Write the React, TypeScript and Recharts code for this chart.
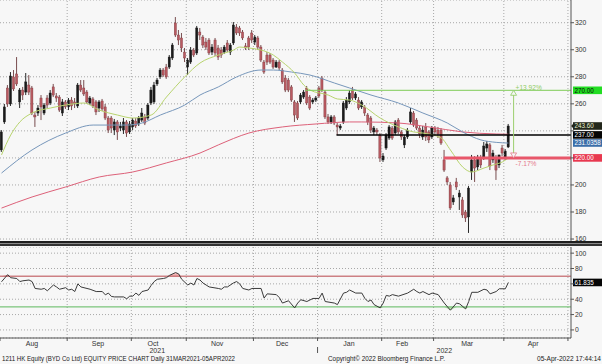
import React from "react";
import {
  Area,
  Bar,
  CartesianGrid,
  ComposedChart,
  Line,
  ReferenceDot,
  ReferenceLine,
  XAxis,
  YAxis,
} from "recharts";

// daily OHLC, one entry per trading day from 2 Aug 2021 to 4 Apr 2022
const openP = [
  225.9, 246.6, 271.7, 259.9, 279.9, 282.1, 261.4, 270.2, 268.7, 273.9,
  271.7, 251.7, 253.2, 264.3, 253.2, 264.3, 260.6, 272.5, 265.8, 265.0,
  253.2, 261.4, 257.7, 262.8, 261.4, 258.4, 273.9, 271.7, 268.7, 260.6,
  263.6, 261.4, 256.9, 262.1, 257.7, 249.5, 249.5, 240.6, 246.6, 242.1,
  240.6, 246.6, 239.2, 242.9, 247.3, 245.1, 248.0, 250.3, 249.5, 260.6,
  261.4, 274.7, 279.9, 285.0, 287.2, 287.2, 293.9, 319.8, 310.9, 308.7,
  298.3, 287.2, 290.9, 299.8, 297.6, 313.1, 309.4, 305.7, 307.2, 298.3,
  307.2, 301.3, 299.8, 298.3, 305.0, 298.3, 305.0, 316.8, 316.1, 313.1,
  302.8, 308.7, 312.4, 305.7, 308.7, 302.0, 290.9, 296.1, 296.1, 292.4,
  287.2, 290.9, 285.0, 279.1, 277.6, 272.5, 261.4, 260.6, 261.4, 265.0,
  271.7, 265.0, 261.4, 262.8, 271.7, 279.1, 268.7, 250.3, 246.6, 250.3,
  244.3, 242.1, 246.6, 256.9, 261.4, 270.2, 264.3, 262.8, 257.7, 257.7,
  251.7, 249.5, 239.2, 240.6, 236.9, 218.5, 227.3, 234.7, 242.1, 238.4,
  248.0, 239.2, 229.6, 235.5, 246.6, 253.2, 248.0, 242.1, 235.5, 242.9,
  239.2, 235.5, 242.1, 240.6, 240.6, 218.5, 205.2, 200.0, 187.4, 202.2,
  191.1, 188.9, 180.0, 176.3, 209.6, 218.5, 213.3, 219.9, 220.7, 227.3,
  229.6, 218.5, 219.9, 214.8, 227.3, 220.7, 228.1,
];
const highP = [
  240.6, 259.9, 273.9, 283.5, 285.0, 294.6, 271.7, 272.5, 282.8, 281.3,
  273.2, 254.0, 259.1, 266.5, 260.6, 266.5, 270.2, 274.7, 268.0, 266.5,
  263.6, 262.8, 264.3, 265.0, 264.3, 275.4, 277.6, 277.6, 270.2, 265.8,
  265.0, 262.8, 262.8, 263.6, 259.9, 251.0, 251.0, 248.8, 248.0, 246.6,
  249.5, 248.0, 247.3, 249.5, 249.5, 251.0, 256.9, 252.5, 260.6, 272.5,
  276.2, 279.1, 286.5, 286.5, 289.5, 296.1, 305.0, 324.2, 314.6, 312.4,
  301.3, 293.9, 302.0, 301.3, 317.6, 316.1, 310.9, 308.7, 308.7, 304.2,
  308.7, 303.5, 302.0, 303.5, 307.2, 305.0, 320.5, 319.0, 317.6, 314.6,
  305.0, 310.2, 314.6, 310.9, 310.2, 303.5, 292.4, 298.3, 297.6, 293.9,
  292.4, 292.4, 286.5, 281.3, 279.1, 273.9, 262.8, 262.1, 268.0, 270.2,
  273.2, 266.5, 264.3, 265.8, 273.2, 280.6, 270.2, 252.5, 251.7, 251.7,
  245.8, 245.1, 262.1, 265.0, 270.2, 272.5, 268.7, 265.0, 262.8, 259.1,
  253.2, 251.0, 243.6, 242.1, 238.4, 223.6, 238.4, 244.3, 243.6, 248.0,
  249.5, 240.6, 236.9, 242.1, 256.9, 254.7, 249.5, 243.6, 243.6, 245.8,
  240.6, 243.6, 243.6, 242.9, 242.1, 225.9, 206.6, 202.2, 192.6, 205.2,
  196.3, 191.1, 181.5, 199.2, 222.2, 221.4, 222.2, 222.2, 231.8, 232.5,
  231.0, 225.9, 222.2, 222.2, 229.6, 226.6, 245.1,
];
const lowP = [
  224.4, 245.1, 257.7, 258.4, 269.5, 273.2, 256.9, 262.8, 266.5, 266.5,
  251.7, 242.9, 251.0, 248.0, 251.7, 256.9, 259.1, 265.0, 261.4, 254.0,
  251.0, 256.2, 255.4, 255.4, 256.9, 256.9, 268.7, 265.8, 259.9, 259.1,
  256.9, 251.7, 254.0, 254.7, 248.0, 238.4, 238.4, 236.9, 233.3, 239.9,
  237.7, 235.5, 237.7, 240.6, 242.1, 243.6, 246.6, 244.3, 248.0, 259.1,
  259.9, 273.2, 278.4, 279.9, 278.4, 285.8, 292.4, 309.4, 303.5, 298.3,
  290.9, 281.3, 289.5, 294.6, 296.1, 307.2, 301.3, 299.8, 296.1, 296.1,
  295.4, 292.4, 293.9, 296.9, 298.3, 296.1, 303.5, 310.9, 310.2, 307.2,
  299.8, 299.8, 305.0, 303.5, 299.8, 290.9, 282.1, 288.7, 289.5, 285.8,
  286.5, 285.0, 274.7, 268.7, 268.7, 261.4, 246.6, 248.0, 259.9, 263.6,
  259.1, 255.4, 259.9, 261.4, 264.3, 268.7, 248.8, 245.1, 245.1, 244.3,
  236.9, 240.6, 245.1, 255.4, 259.9, 262.8, 262.8, 255.4, 256.2, 251.0,
  244.3, 238.4, 236.9, 236.9, 217.0, 217.0, 225.9, 233.3, 233.3, 236.9,
  237.7, 233.3, 227.3, 234.0, 245.1, 242.9, 240.6, 234.7, 233.3, 232.5,
  231.0, 234.0, 236.9, 234.7, 229.6, 209.6, 200.0, 181.5, 185.2, 196.3,
  181.5, 175.6, 172.6, 164.5, 203.7, 202.2, 211.0, 212.5, 218.5, 224.4,
  211.0, 216.3, 203.7, 212.5, 221.4, 218.5, 227.3,
];
const closeP = [
  239.2, 257.7, 259.9, 280.6, 271.0, 274.7, 270.2, 266.5, 276.2, 268.7,
  253.2, 250.3, 256.9, 257.7, 259.1, 259.1, 268.0, 266.5, 264.3, 255.4,
  261.4, 257.7, 262.8, 258.4, 259.9, 273.9, 270.2, 267.3, 261.4, 264.3,
  258.4, 254.0, 261.4, 256.2, 249.5, 240.6, 242.1, 246.6, 239.2, 243.6,
  246.6, 238.4, 245.1, 248.0, 243.6, 249.5, 253.2, 245.8, 259.1, 270.2,
  273.9, 277.6, 285.0, 281.3, 279.9, 294.6, 303.5, 310.9, 307.2, 301.3,
  293.9, 292.4, 299.8, 296.1, 316.1, 310.9, 303.5, 302.0, 297.6, 302.0,
  297.6, 294.6, 296.1, 302.0, 299.8, 303.5, 318.3, 312.4, 312.4, 308.7,
  301.3, 302.0, 307.2, 309.4, 302.0, 292.4, 283.5, 290.9, 290.9, 287.2,
  290.9, 286.5, 276.2, 270.2, 270.2, 262.8, 251.7, 249.5, 266.5, 268.7,
  260.6, 256.9, 262.8, 264.3, 265.8, 270.2, 250.3, 246.6, 250.3, 245.8,
  242.9, 243.6, 260.6, 262.8, 268.0, 264.3, 267.3, 256.9, 261.4, 253.2,
  246.6, 240.6, 242.1, 239.2, 219.9, 221.4, 236.9, 242.9, 234.7, 246.6,
  239.2, 235.5, 235.5, 240.6, 254.0, 244.3, 242.1, 237.7, 240.6, 235.5,
  233.3, 242.1, 239.2, 237.7, 231.0, 211.0, 202.2, 183.0, 190.4, 198.5,
  194.0, 177.8, 175.6, 197.7, 218.5, 212.5, 219.9, 214.8, 228.8, 230.3,
  214.0, 223.6, 211.0, 222.2, 223.6, 225.1, 243.6,
];

// moving averages: [trading day index, value]
const maShort: [number, number][] = [
  [0, 222.2], [3, 236.9], [6, 246.6], [10, 253.2], [16, 256.9], [21, 259.1],
  [27, 260.6], [32, 255.4], [38, 251.7], [43, 249.5], [49, 251.7], [54, 265.0],
  [60, 279.9], [65, 290.2], [71, 296.1], [76, 299.8], [78, 302.0], [81, 301.3],
  [85, 299.8], [89, 296.1], [92, 290.9], [96, 282.8], [99, 273.9], [101, 270.2],
  [107, 266.5], [110, 263.6], [114, 262.8], [118, 259.1], [124, 249.5], [130, 242.9],
  [135, 239.2], [138, 238.4], [144, 234.7], [147, 225.9], [151, 213.3], [154, 209.6],
  [158, 212.5], [161, 214.8], [164, 217.0], [166, 219.9],
];
const maMid: [number, number][] = [
  [0, 208.8], [10, 225.9], [21, 238.4], [30, 244.3], [36, 244.3], [41, 244.3],
  [46, 245.8], [52, 251.7], [60, 259.1], [65, 266.5], [71, 272.5], [77, 279.9],
  [85, 285.0], [89, 285.0], [95, 283.5], [101, 281.3], [109, 275.4], [114, 271.7],
  [121, 266.5], [130, 260.6], [138, 253.2], [146, 245.8], [151, 239.2], [157, 233.3],
  [162, 231.5], [166, 231.0],
];
const maLong: [number, number][] = [
  [0, 182.9], [10, 191.1], [21, 198.5], [32, 205.9], [43, 209.6], [54, 216.3],
  [65, 223.6], [71, 229.6], [81, 238.4], [92, 242.9], [103, 245.1], [114, 246.6],
  [118, 246.6], [130, 245.8], [140, 242.9], [151, 239.2], [162, 237.7], [166, 237.5],
];

const rsiPoints: [number, number][] = [
  [0, 62.7], [2, 72], [3, 68], [5, 67], [6, 63], [7, 64], [9, 65], [10, 63], [11, 54],
  [13, 53], [14, 54], [15, 51], [17, 58.5], [18, 56], [19, 53], [21, 55], [22, 52],
  [23, 53], [24, 50], [25, 60], [26, 56], [29, 53], [31, 50], [33, 50], [34, 45.7],
  [35, 48], [36, 43.6], [37, 43], [40, 43], [41, 40.6], [42, 44], [43, 44], [44, 48],
  [45, 45], [46, 50], [48, 52], [49, 58], [50, 63], [51, 66], [53, 67], [54, 68],
  [55, 71], [57, 74.7], [58, 73], [59, 66], [61, 58.5], [62, 61], [63, 58.5], [64, 67],
  [65, 65], [66, 61], [67, 58.5], [68, 56], [71, 54], [72, 53], [73, 56], [74, 56],
  [76, 61.3], [77, 63], [78, 60], [79, 54], [81, 52], [82, 54], [85, 54], [86, 41.5],
  [87, 47], [90, 46], [91, 42], [92, 35], [94, 38], [96, 28.7], [97, 35], [98, 39.3],
  [100, 37], [102, 41], [104, 41], [105, 48], [106, 37], [109, 35], [110, 33], [112, 48],
  [113, 49], [114, 52], [116, 48], [118, 48], [119, 41], [120, 37], [121, 39], [122, 33],
  [124, 28.7], [125, 35], [126, 45], [127, 44], [128, 46], [130, 44], [133, 48], [135, 53],
  [136, 50], [137, 48], [138, 50], [140, 46], [141, 48], [143, 46], [145, 35], [147, 25.7],
  [149, 35], [150, 34], [152, 27.4], [153, 37], [154, 49], [156, 49], [158, 53], [159, 52],
  [160, 47], [162, 50], [163, 53.6], [165, 53.6], [166, 61.835],
];

// axis layout in trading-day units
const monthBounds = [-0.5, 21.5, 42.5, 60.5, 82.5, 103.5, 124.5, 141.5, 164.5, 185.5];
const monthNames = ["Aug", "Sep", "Oct", "Nov", "Dec", "Jan", "Feb", "Mar", "Apr"];
const monthLabelAt = [10, 31.6, 49.6, 70.6, 91.9, 113.8, 131.2, 152.5, 174.1];
const yearNames = ["2021", "2022"];
const yearLabelAt = [51, 145];
const yearBreak = 103.5;
const priceTicks = [160, 180, 200, 220, 240, 260, 280, 300, 320];
const priceTicksHidden = [220, 240];
const rsiTicks = [0, 20, 40, 60, 80, 100];
const rsiTicksHidden = [60];

const SLOTS = 187;
const BG = "#f7f7f7";
const FONT = "'Liberation Sans', Arial, sans-serif";
const GRID = "#a8a8a8";
const DASH = "1 2";

const mainRows: any[] = Array.from({ length: SLOTS }, (_, i) => ({
  i,
  o: openP[i],
  h: highP[i],
  l: lowP[i],
  c: closeP[i],
}));

const toRows = (pts: [number, number][]) => pts.map(([i, v]) => ({ i, v }));
const shortRows = toRows(maShort);
const midRows = toRows(maMid);
const longRows = toRows(maLong);

const rsiRows = rsiPoints.map(([x, v]) => ({
  x,
  v,
  hi: [70, Math.max(v, 70)],
  lo: [Math.min(v, 30), 30],
}));

const xTicks = Array.from(new Set([...monthBounds, ...monthLabelAt, ...yearLabelAt]));

const Candle = (props: any) => {
  const { x, y, width, height, payload } = props;
  if (payload == null || payload.c == null || !height) return null;
  const top = Math.min(y, y + height);
  const span = Math.abs(height);
  const k = span / (payload.h - payload.l);
  const yO = top + (payload.h - payload.o) * k;
  const yC = top + (payload.h - payload.c) * k;
  const up = payload.c >= payload.o;
  const cx = x + width / 2;
  return (
    <g>
      <line x1={cx} x2={cx} y1={top} y2={top + span} stroke={up ? "#111" : "#6a3a3c"} strokeWidth={0.9} />
      <rect
        x={cx - 1.1}
        y={Math.min(yO, yC)}
        width={2.2}
        height={Math.max(Math.abs(yO - yC), 1)}
        fill={up ? "#1a1a1a" : "#b95a61"}
        stroke={up ? "#1a1a1a" : "#7e3a3f"}
        strokeWidth={0.4}
      />
    </g>
  );
};

const Tag = (props: any) => {
  const { viewBox, text, bg, fg, pointer } = props;
  if (!viewBox) return null;
  const x = viewBox.x + viewBox.width + 2;
  const y = viewBox.y;
  return (
    <g>
      {pointer && <path d={`M${x - 2},${y} L${x + 1},${y - 3} L${x + 1},${y + 3} Z`} fill={bg} />}
      <rect x={x} y={y - 3.8} width={29} height={7.6} fill={bg} />
      <text x={x + 1.5} y={y + 2.3} fontSize={6.3} fill={fg} fontFamily={FONT}>
        {text}
      </text>
    </g>
  );
};

const YTick = (props: any) => {
  const { x, y, payload, hidden } = props;
  if (hidden.includes(payload.value)) return null;
  return (
    <text x={x} y={y + 2.4} fontSize={6.8} fill="#333" fontFamily={FONT}>
      {payload.value}
    </text>
  );
};

const UpMarker = (props: any) => {
  const { cx, cy } = props;
  return (
    <g>
      <path d={`M${cx},${cy} L${cx - 3},${cy + 5} L${cx + 3},${cy + 5} Z`} fill={BG} stroke="#8fcc62" strokeWidth={0.8} />
      <text x={cx + 2} y={cy - 0.5} fontSize={6.6} fill="#8fcc62" fontFamily={FONT}>
        +13.92%
      </text>
    </g>
  );
};

const DownMarker = (props: any) => {
  const { cx, cy } = props;
  return (
    <g>
      <path d={`M${cx},${cy} L${cx - 3},${cy - 5} L${cx + 3},${cy - 5} Z`} fill={BG} stroke="#e5798a" strokeWidth={0.8} />
      <text x={cx + 2} y={cy + 8} fontSize={6.6} fill="#e5798a" fontFamily={FONT}>
        -7.17%
      </text>
    </g>
  );
};

const XTick = (props: any) => {
  const { x, y, payload } = props;
  const v = payload.value;
  const mi = monthLabelAt.indexOf(v);
  const yi = yearLabelAt.indexOf(v);
  return (
    <g>
      {monthBounds.includes(v) && <line x1={x} x2={x} y1={y} y2={y + 3} stroke="#555" />}
      {v === yearBreak && <line x1={x} x2={x} y1={y + 9} y2={y + 15} stroke="#555" />}
      {mi >= 0 && (
        <text x={x} y={y + 7.5} textAnchor="middle" fontSize={7} fill="#333" fontFamily={FONT}>
          {monthNames[mi]}
        </text>
      )}
      {yi >= 0 && (
        <text x={x} y={y + 15} textAnchor="middle" fontSize={7} fill="#333" fontFamily={FONT}>
          {yearNames[yi]}
        </text>
      )}
    </g>
  );
};

export default function App() {
  return (
    <div style={{ position: "absolute", left: 0, top: 0, width: 602, height: 364, background: BG, overflow: "hidden" }}>
      <div style={{ position: "absolute", left: 0, top: 0 }}>
        <ComposedChart width={602} height={242} data={mainRows} margin={{ top: 0, right: 0, bottom: 0, left: 0 }}>
          <CartesianGrid vertical={false} stroke={GRID} strokeDasharray={DASH} />
          <XAxis dataKey="i" hide />
          <XAxis xAxisId="n" dataKey="i" type="number" domain={[-0.5, 186.5]} hide allowDataOverflow />
          <YAxis
            orientation="right"
            width={31}
            domain={[157.8, 336.8]}
            ticks={priceTicks}
            interval={0}
            allowDataOverflow
            tickSize={3}
            tickMargin={1}
            tick={(p: any) => <YTick {...p} hidden={priceTicksHidden} />}
            axisLine={{ stroke: "#555" }}
            tickLine={{ stroke: "#555" }}
          />
          {monthBounds.slice(1).map((b) => (
            <ReferenceLine key={b} xAxisId="n" x={b} stroke={GRID} strokeDasharray={DASH} />
          ))}
          <Line xAxisId="n" data={longRows} dataKey="v" type="monotone" dot={false} activeDot={false} stroke="#dd6179" strokeWidth={1} isAnimationActive={false} />
          <Line xAxisId="n" data={midRows} dataKey="v" type="monotone" dot={false} activeDot={false} stroke="#7797bb" strokeWidth={1} isAnimationActive={false} />
          <Line xAxisId="n" data={shortRows} dataKey="v" type="monotone" dot={false} activeDot={false} stroke="#b8d46e" strokeWidth={1} isAnimationActive={false} />
          <Bar
            dataKey={(d: any) => (d.c == null ? null : [d.l, d.h])}
            shape={(p: any) => <Candle {...p} />}
            activeBar={false}
            isAnimationActive={false}
          />
          <ReferenceLine xAxisId="n" segment={[{ x: 99.5, y: 270 }, { x: 186.5, y: 270 }]} stroke="#7fcb57" strokeWidth={1} />
          <ReferenceLine xAxisId="n" segment={[{ x: 109.7, y: 237 }, { x: 186.5, y: 237 }]} stroke="#000" strokeWidth={1.5} />
          <ReferenceLine xAxisId="n" segment={[{ x: 144.8, y: 220 }, { x: 186.5, y: 220 }]} stroke="#e8576a" strokeWidth={3} />
          <ReferenceLine xAxisId="n" segment={[{ x: 167.7, y: 220 }, { x: 167.7, y: 270 }]} stroke="#9ccf6e" strokeWidth={1} />
          <ReferenceDot xAxisId="n" x={167.7} y={270} r={3} shape={(p: any) => <UpMarker {...p} />} />
          <ReferenceDot xAxisId="n" x={167.7} y={220} r={3} shape={(p: any) => <DownMarker {...p} />} />
          <ReferenceLine y={270} stroke="none" label={<Tag text="270.00" bg="#22dd22" fg="#0a0a0a" />} />
          <ReferenceLine y={243.6} stroke="none" label={<Tag text="243.60" bg="#23271b" fg="#e8f0d0" pointer />} />
          <ReferenceLine y={237} stroke="none" label={<Tag text="237.00" bg="#050505" fg="#ffffff" />} />
          <ReferenceLine y={231.0358} stroke="none" label={<Tag text="231.0358" bg="#3b6ea8" fg="#ffffff" />} />
          <ReferenceLine y={220} stroke="none" label={<Tag text="220.00" bg="#e8384f" fg="#ffffff" />} />
        </ComposedChart>
      </div>

      <div style={{ position: "absolute", left: 0, top: 241, width: 602, height: 2, background: "#1e1e1e" }} />
      <div style={{ position: "absolute", left: 0, top: 243, width: 602, height: 1, background: "#8a8a8a" }} />
      <div style={{ position: "absolute", left: 0, top: 244, width: 602, height: 2, background: "#333" }} />

      <div style={{ position: "absolute", left: 0, top: 247 }}>
        <ComposedChart width={602} height={113} data={rsiRows} margin={{ top: 0, right: 0, bottom: 0, left: 0 }}>
          <CartesianGrid vertical={false} stroke={GRID} strokeDasharray={DASH} />
          <XAxis
            dataKey="x"
            type="number"
            domain={[-0.5, 186.5]}
            allowDataOverflow
            ticks={xTicks}
            interval={0}
            tick={(p: any) => <XTick {...p} />}
            tickLine={false}
            tickSize={0}
            tickMargin={0}
            height={22}
            axisLine={{ stroke: "#555" }}
          />
          <YAxis
            orientation="right"
            width={31}
            domain={[-10.5, 108]}
            ticks={rsiTicks}
            interval={0}
            allowDataOverflow
            tickSize={3}
            tickMargin={1}
            tick={(p: any) => <YTick {...p} hidden={rsiTicksHidden} />}
            axisLine={{ stroke: "#555" }}
            tickLine={{ stroke: "#555" }}
          />
          {monthBounds.slice(1).map((b) => (
            <ReferenceLine key={b} x={b} stroke={GRID} strokeDasharray={DASH} />
          ))}
          <Area dataKey="hi" type="linear" fill="#f0b3b3" fillOpacity={1} stroke="none" activeDot={false} isAnimationActive={false} />
          <Area dataKey="lo" type="linear" fill="#bfe5b5" fillOpacity={1} stroke="none" activeDot={false} isAnimationActive={false} />
          <ReferenceLine y={70} stroke="#b8474c" strokeWidth={1} />
          <ReferenceLine y={30} stroke="#5cb85c" strokeWidth={1} />
          <Line dataKey="v" type="linear" dot={false} activeDot={false} stroke="#3a3a3a" strokeWidth={1} isAnimationActive={false} />
          <ReferenceLine y={61.835} stroke="none" label={<Tag text="61.835" bg="#050505" fg="#ffffff" />} />
        </ComposedChart>
      </div>

      <svg width={602} height={364} style={{ position: "absolute", left: 0, top: 0, pointerEvents: "none" }}>
        <text x={2} y={361} fontSize={6.8} fill="#222" fontFamily={FONT} textLength={233} lengthAdjust="spacingAndGlyphs">
          1211 HK Equity (BYD Co Ltd) EQUITY PRICE CHART  Daily 31MAR2021-05APR2022
        </text>
        <text x={328} y={361} fontSize={6.8} fill="#222" fontFamily={FONT} textLength={117} lengthAdjust="spacingAndGlyphs">
          Copyright© 2022 Bloomberg Finance L.P.
        </text>
        <text x={537} y={361} fontSize={6.8} fill="#222" fontFamily={FONT} textLength={64} lengthAdjust="spacingAndGlyphs">
          05-Apr-2022 17:44:14
        </text>
      </svg>
    </div>
  );
}
